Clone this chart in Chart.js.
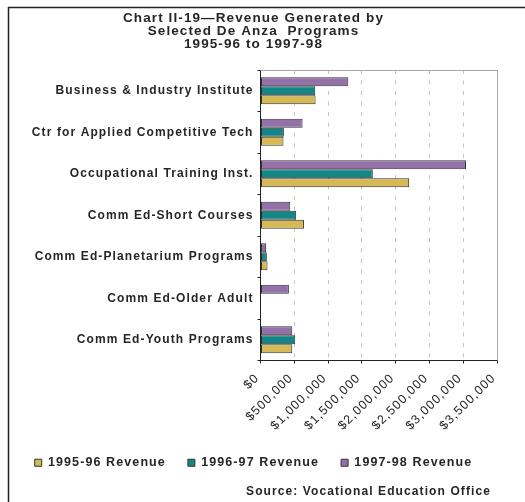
<!DOCTYPE html>
<html>
<head>
<meta charset="utf-8">
<script src="https://cdn.jsdelivr.net/npm/chart.js@4.4.1/dist/chart.umd.min.js"></script>
<style>
  html, body { margin: 0; padding: 0; background: #fff; overflow: hidden; }
  canvas { display: block; }
</style>
</head>
<body>
<canvas id="revenueChart" width="525" height="502"></canvas>
<script>
// Programs, top to bottom
const programs = [
    'Business & Industry Institute',
    'Ctr for Applied Competitive Tech',
    'Occupational Training Inst.',
    'Comm Ed-Short Courses',
    'Comm Ed-Planetarium Programs',
    'Comm Ed-Older Adult',
    'Comm Ed-Youth Programs'
];

// Revenue by year (dollars)
const rev9596 = [815000, 340000, 2200000, 643000, 104000, 0, 470000];
const rev9697 = [810000, 346000, 1662000, 528000, 94000, 0, 514000];
const rev9798 = [1300000, 623000, 3041000, 440000, 83000, 420000, 470000];

const xTickLabels = ['$0', '$500,000', '$1,000,000', '$1,500,000', '$2,000,000', '$2,500,000', '$3,000,000', '$3,500,000'];

const textColor = '#262626';
Chart.defaults.font.family = "'Liberation Sans', Arial, sans-serif";
Chart.defaults.color = textColor;

// wide lettering like the original
const spacing = {
    id: 'spacing',
    beforeUpdate(chart) { chart.ctx.letterSpacing = '1.1px'; },
    beforeDraw(chart) { chart.ctx.letterSpacing = '1.1px'; }
};

// light border on the top and right of the plot
const plotBorder = {
    id: 'plotBorder',
    beforeDatasetsDraw(chart) {
        const { ctx, chartArea: a } = chart;
        ctx.save();
        ctx.strokeStyle = '#a8a8a8';
        ctx.lineWidth = 1;
        ctx.beginPath();
        ctx.moveTo(a.left, Math.round(a.top) + 0.5);
        ctx.lineTo(Math.round(a.right) + 0.5, Math.round(a.top) + 0.5);
        ctx.lineTo(Math.round(a.right) + 0.5, a.bottom);
        ctx.stroke();
        ctx.restore();
    }
};

// page frame and source note
const frame = {
    id: 'frame',
    afterDraw(chart) {
        const ctx = chart.ctx;
        ctx.save();
        ctx.strokeStyle = '#222';
        ctx.lineWidth = 1.5;
        ctx.beginPath();
        ctx.moveTo(8.5, 502);
        ctx.lineTo(8.5, 7.5);
        ctx.lineTo(525, 7.5);
        ctx.stroke();
        ctx.font = "bold 12px 'Liberation Sans', Arial, sans-serif";
        ctx.fillStyle = textColor;
        ctx.textAlign = 'right';
        ctx.textBaseline = 'middle';
        ctx.fillText('Source: Vocational Education Office', 491, 492);
        ctx.restore();
    }
};

new Chart(document.getElementById('revenueChart'), {
    type: 'bar',
    data: {
        labels: programs,
        datasets: [{
            label: '1997-98 Revenue',
            data: rev9798,
            backgroundColor: '#9571aa'
        }, {
            label: '1996-97 Revenue',
            data: rev9697,
            backgroundColor: '#138785'
        }, {
            label: '1995-96 Revenue',
            data: rev9596,
            backgroundColor: '#d4b956'
        }]
    },
    options: {
        indexAxis: 'y',
        responsive: false,
        animation: false,
        datasets: {
            bar: {
                borderColor: '#333',
                borderWidth: 1,
                borderSkipped: false,
                categoryPercentage: 0.65,
                barPercentage: 1
            }
        },
        layout: {
            padding: { left: 10, right: 28, top: 0, bottom: 23 }
        },
        plugins: {
            title: {
                display: true,
                text: ['Chart II-19\u2014Revenue Generated by', 'Selected De Anza  Programs', '1995-96 to 1997-98'],
                color: textColor,
                font: { size: 13.5, weight: 'bold', lineHeight: '13px' },
                padding: { top: 12, bottom: 19 }
            },
            legend: {
                position: 'bottom',
                reverse: true,
                labels: {
                    boxWidth: 7,
                    boxHeight: 7,
                    padding: 22,
                    color: textColor,
                    font: { size: 12.5, weight: 'bold' }
                }
            },
            tooltip: { enabled: false }
        },
        scales: {
            x: {
                min: 0,
                max: 3500000,
                grid: {
                    color: '#c4c4c4',
                    tickLength: 3,
                    tickColor: '#222',
                    tickBorderDash: []
                },
                border: { color: '#222', width: 1, dash: [4, 6.5] },
                ticks: {
                    stepSize: 500000,
                    minRotation: 45,
                    maxRotation: 45,
                    padding: 4,
                    color: textColor,
                    font: { size: 12.5 },
                    callback: (v, i) => xTickLabels[i] + ' '
                },
                afterFit(scale) { scale.height = 74; }
            },
            y: {
                grid: {
                    offset: true,
                    drawOnChartArea: false,
                    tickLength: 3,
                    color: '#222'
                },
                border: { color: '#222', width: 1 },
                ticks: {
                    padding: 4,
                    color: textColor,
                    font: { size: 12, weight: 'bold' }
                },
                afterFit(scale) { scale.width = 250.5; }
            }
        }
    },
    plugins: [spacing, plotBorder, frame]
});
</script>
</body>
</html>
